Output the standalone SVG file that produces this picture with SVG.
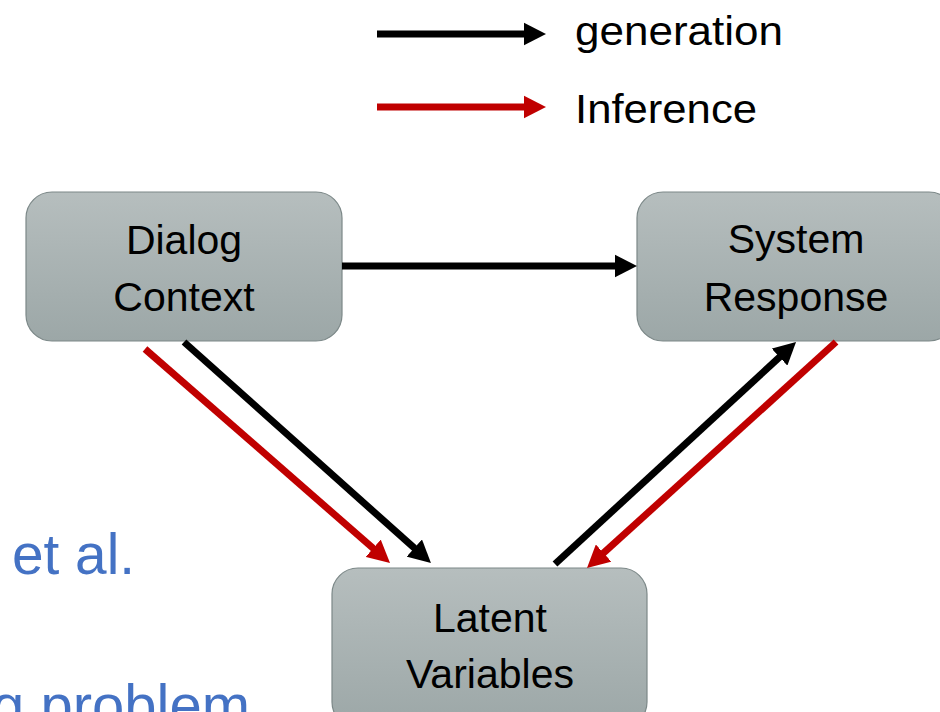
<svg xmlns="http://www.w3.org/2000/svg" width="940" height="712" viewBox="0 0 940 712">
  <defs>
    <linearGradient id="boxfill" x1="0" y1="0" x2="0" y2="1">
      <stop offset="0" stop-color="#B6BEBE"/>
      <stop offset="1" stop-color="#9CA7A7"/>
    </linearGradient>
    <marker id="headK" viewBox="0 0 3.2 3.3" refX="1" refY="1.65" markerWidth="3.2" markerHeight="3.3" orient="auto" markerUnits="strokeWidth">
      <path d="M0,0 L3.2,1.65 L0,3.3 z" fill="#000000"/>
    </marker>
    <marker id="headR" viewBox="0 0 3.2 3.3" refX="1" refY="1.65" markerWidth="3.2" markerHeight="3.3" orient="auto" markerUnits="strokeWidth">
      <path d="M0,0 L3.2,1.65 L0,3.3 z" fill="#C00000"/>
    </marker>
  </defs>
  <style>
    .box { fill: url(#boxfill); stroke: #7C8888; stroke-width: 1.2; }
    .lbl { font-family: "Liberation Sans", Arial, sans-serif; font-size: 41px; fill: #000000; text-anchor: middle; }
    .leg { font-family: "Liberation Sans", Arial, sans-serif; font-size: 41px; fill: #000000; }
    .blue { font-family: "Liberation Sans", Arial, sans-serif; font-size: 58px; fill: #4472C4; }
    .gen { stroke: #000000; stroke-width: 7; fill: none; marker-end: url(#headK); }
    .inf { stroke: #C00000; stroke-width: 7; fill: none; marker-end: url(#headR); }
  </style>
  <rect width="940" height="712" fill="#FFFFFF"/>

  <g id="background-text">
    <text class="blue" x="12" y="574" textLength="123" lengthAdjust="spacingAndGlyphs">et al.</text>
    <text class="blue" x="250" y="725" text-anchor="end">g problem</text>
  </g>

  <g id="legend">
    <line class="gen" x1="377" y1="34" x2="530.6" y2="34"/>
    <line class="inf" x1="377" y1="107" x2="530.6" y2="107"/>
    <text class="leg" x="575" y="45" textLength="208" lengthAdjust="spacingAndGlyphs">generation</text>
    <text class="leg" x="575" y="123" textLength="182" lengthAdjust="spacingAndGlyphs">Inference</text>
  </g>

  <g id="node-dialog-context">
    <rect class="box" x="26" y="192" width="316" height="149" rx="26" ry="26"/>
    <text class="lbl" x="184" y="254">Dialog</text>
    <text class="lbl" x="184" y="311">Context</text>
  </g>

  <g id="node-system-response">
    <rect class="box" x="637" y="192" width="318" height="149" rx="26" ry="26"/>
    <text class="lbl" x="796" y="253">System</text>
    <text class="lbl" x="796" y="311">Response</text>
  </g>

  <g id="node-latent-variables">
    <rect class="box" x="332" y="568" width="315" height="160" rx="26" ry="26"/>
    <text class="lbl" x="490" y="632">Latent</text>
    <text class="lbl" x="490" y="688">Variables</text>
  </g>

  <g id="connectors">
    <line class="gen" x1="342" y1="266" x2="621.6" y2="266"/>
    <line class="inf" x1="145" y1="349" x2="378.4" y2="552.9"/>
    <line class="gen" x1="184" y1="342" x2="419.5" y2="552.7"/>
    <line class="gen" x1="555" y1="564" x2="784.7" y2="352.4"/>
    <line class="inf" x1="836" y1="342" x2="598.4" y2="557.7"/>
  </g>
</svg>
